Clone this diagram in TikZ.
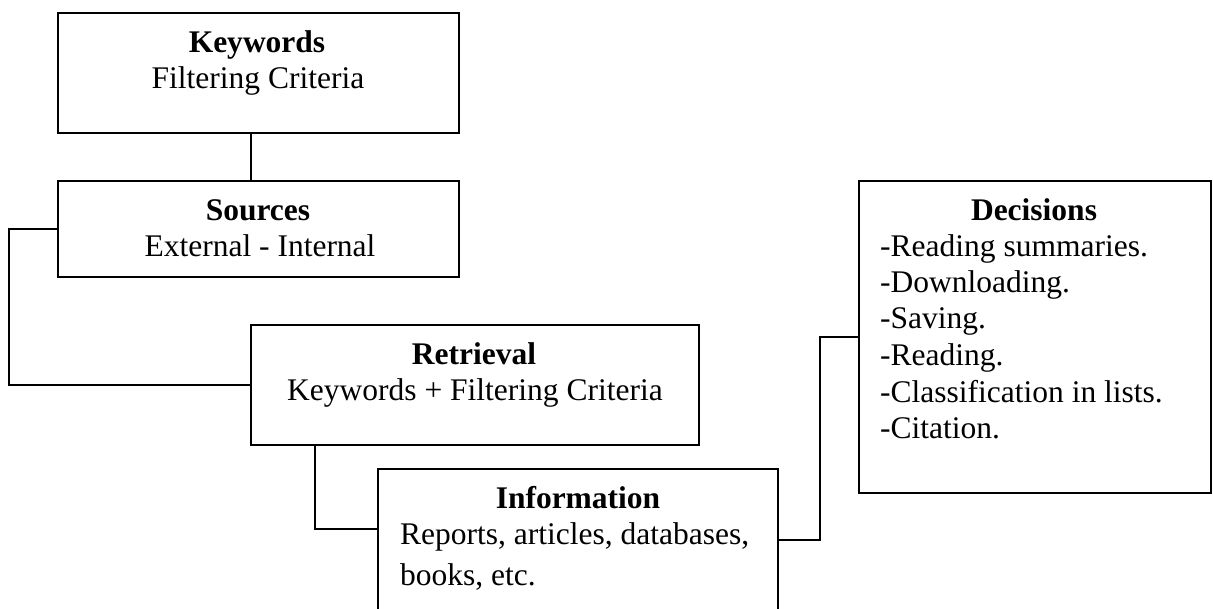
\documentclass[tikz,border=0pt]{standalone}
\usepackage{fontspec}
\setmainfont{Liberation Serif}
\begin{document}
\begin{tikzpicture}[x=1bp,y=-1bp,
  box/.style={draw,line width=2bp,inner sep=0pt,rectangle},
  txt/.style={inner sep=0pt,font=\fontsize{31.5bp}{36bp}\selectfont},
  ttl/.style={txt,anchor=base,font=\fontsize{31.5bp}{36bp}\selectfont\bfseries},
  ctr/.style={txt,anchor=base},
  lft/.style={txt,anchor=base west},
  conn/.style={line width=2bp}]
\clip (0,0) rectangle (1213,609);
\fill[white] (0,0) rectangle (1213,609);
% boxes
\node[box,minimum width=401bp,minimum height=120bp] (kw) at (258.5,73) {};
\node[box,minimum width=401bp,minimum height=96bp] (src) at (258.5,229) {};
\node[box,minimum width=448bp,minimum height=120bp] (ret) at (475,385) {};
\node[box,minimum width=400bp,minimum height=180bp] (info) at (578,559) {};
\node[box,minimum width=352bp,minimum height=312bp] (dec) at (1035,337) {};
% texts
\node[ttl] (kwt) at (257,53) {Keywords};
\node[ctr] (kwb) at (258,89) {Filtering Criteria};
\node[ttl] (srct) at (258,221) {Sources};
\node[ctr] (srcb) at (260,257) {External - Internal};
\node[ttl] (rett) at (474,364) {Retrieval};
\node[ctr] (retb) at (475,400) {Keywords + Filtering Criteria};
\node[ttl] (infot) at (578,508) {Information};
\node[lft] (infob1) at (400,544) {Reports, articles, databases,};
\node[lft] (infob2) at (400,585) {books, etc.};
\node[ttl] (dect) at (1034,221) {Decisions};
\node[lft] (dec1) at (880,257) {-Reading summaries.};
\node[lft] (dec2) at (880,293) {-Downloading.};
\node[lft] (dec3) at (880,329) {-Saving.};
\node[lft] (dec4) at (880,365) {-Reading.};
\node[lft] (dec5) at (880,402) {-Classification in lists.};
\node[lft] (dec6) at (880,438) {-Citation.};
% connectors
\draw[conn] ([xshift=-7.5bp]kw.south) -- ([xshift=-7.5bp]src.north);
\draw[conn] (src.west) -- ++(-48,0) |- (ret.west);
\draw[conn] ([xshift=-160bp]ret.south) |- ([yshift=30bp]info.west);
\draw[conn] ([yshift=19bp]info.east) -- ++(41,0) |- (dec.west);
\end{tikzpicture}
\end{document}
